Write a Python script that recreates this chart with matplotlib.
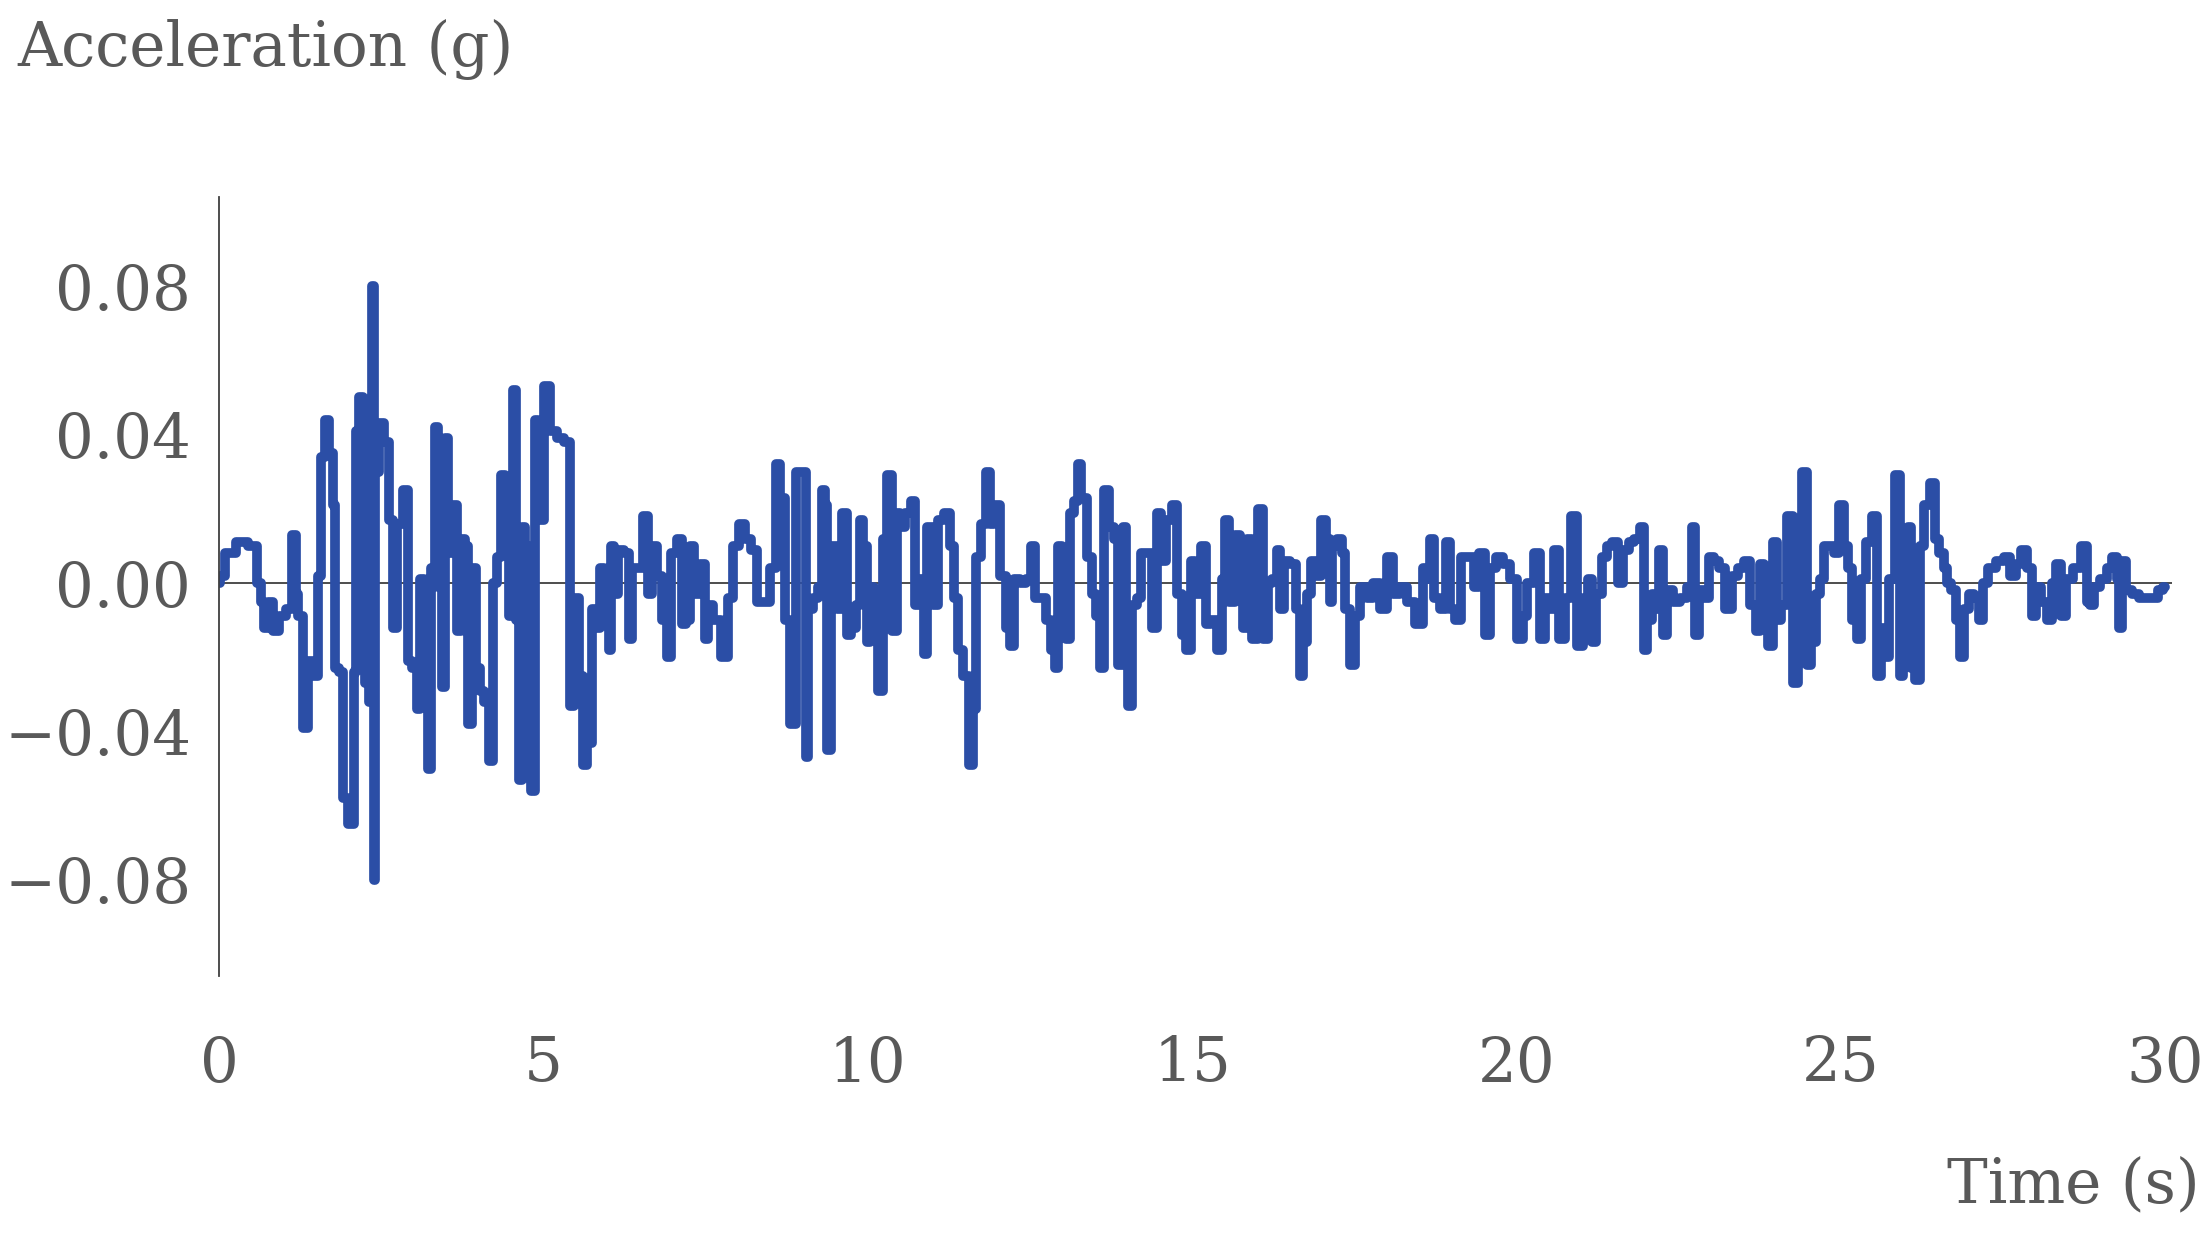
import matplotlib
matplotlib.use("Agg")
import matplotlib.pyplot as plt

# Ground-motion record (time in s, acceleration in g)
time_s = [
    0.00, 0.02, 0.17, 0.35, 0.55, 0.61, 0.68, 0.71, 0.79, 0.89, 0.97, 1.09, 1.16, 1.20, 1.25, 1.33,
    1.40, 1.51, 1.53, 1.61, 1.66, 1.74, 1.76, 1.81, 1.89, 1.94, 2.05, 2.10, 2.12, 2.20, 2.23, 2.28,
    2.33, 2.38, 2.39, 2.43, 2.51, 2.58, 2.66, 2.71, 2.79, 2.89, 2.94, 3.02, 3.07, 3.12, 3.20, 3.25,
    3.30, 3.35, 3.41, 3.46, 3.51, 3.56, 3.64, 3.69, 3.77, 3.82, 3.87, 3.92, 4.00, 4.05, 4.13, 4.20,
    4.25, 4.33, 4.38, 4.43, 4.51, 4.56, 4.61, 4.64, 4.69, 4.74, 4.79, 4.84, 4.90, 4.95, 5.06, 5.15,
    5.26, 5.39, 5.44, 5.51, 5.59, 5.64, 5.72, 5.77, 5.85, 5.90, 5.98, 6.03, 6.05, 6.13, 6.18, 6.31,
    6.34, 6.39, 6.49, 6.59, 6.64, 6.72, 6.80, 6.87, 6.93, 7.00, 7.11, 7.16, 7.23, 7.29, 7.36, 7.47,
    7.52, 7.57, 7.67, 7.80, 7.88, 7.98, 8.06, 8.16, 8.24, 8.34, 8.44, 8.55, 8.61, 8.70, 8.75, 8.85,
    8.93, 9.03, 9.06, 9.11, 9.19, 9.27, 9.32, 9.37, 9.39, 9.47, 9.57, 9.65, 9.70, 9.78, 9.86, 9.91,
    9.96, 10.01, 10.06, 10.14, 10.19, 10.27, 10.33, 10.42, 10.47, 10.52, 10.63, 10.70, 10.76, 10.86, 10.88, 10.96,
    11.06, 11.12, 11.24, 11.30, 11.37, 11.42, 11.53, 11.60, 11.65, 11.70, 11.78, 11.86, 11.91, 11.99, 12.09, 12.17,
    12.22, 12.30, 12.40, 12.48, 12.55, 12.61, 12.71, 12.79, 12.86, 12.91, 12.97, 13.02, 13.09, 13.14, 13.22, 13.26,
    13.33, 13.43, 13.48, 13.56, 13.61, 13.68, 13.76, 13.84, 13.89, 13.97, 13.99, 14.04, 14.12, 14.17, 14.25, 14.35,
    14.43, 14.48, 14.56, 14.64, 14.74, 14.81, 14.89, 14.94, 15.02, 15.07, 15.12, 15.17, 15.25, 15.35, 15.43, 15.48,
    15.53, 15.61, 15.71, 15.76, 15.82, 15.89, 15.97, 16.06, 16.13, 16.20, 16.28, 16.33, 16.38, 16.46, 16.56, 16.64,
    16.68, 16.74, 16.79, 16.87, 16.95, 17.02, 17.10, 17.15, 17.18, 17.28, 17.33, 17.38, 17.49, 17.54, 17.64, 17.74,
    17.85, 17.95, 18.05, 18.15, 18.26, 18.36, 18.52, 18.59, 18.64, 18.69, 18.77, 18.87, 18.95, 19.00, 19.10, 19.18,
    19.29, 19.39, 19.47, 19.57, 19.62, 19.75, 19.85, 19.95, 20.06, 20.13, 20.21, 20.32, 20.42, 20.47, 20.54, 20.62,
    20.70, 20.80, 20.90, 20.98, 21.06, 21.14, 21.19, 21.26, 21.37, 21.44, 21.52, 21.60, 21.68, 21.78, 21.86, 21.96,
    21.98, 22.06, 22.11, 22.16, 22.24, 22.29, 22.37, 22.47, 22.57, 22.68, 22.73, 22.78, 22.86, 22.94, 23.01, 23.09,
    23.17, 23.27, 23.37, 23.47, 23.55, 23.65, 23.73, 23.78, 23.86, 23.91, 23.99, 24.04, 24.12, 24.22, 24.30, 24.37,
    24.45, 24.50, 24.58, 24.66, 24.71, 24.78, 24.86, 24.94, 25.02, 25.07, 25.14, 25.22, 25.27, 25.35, 25.43, 25.53,
    25.58, 25.66, 25.71, 25.79, 25.89, 25.94, 25.99, 26.07, 26.09, 26.20, 26.25, 26.33, 26.43, 26.48, 26.56, 26.61,
    26.66, 26.74, 26.81, 26.87, 26.94, 27.02, 27.09, 27.17, 27.22, 27.33, 27.46, 27.56, 27.66, 27.74, 27.82, 27.92,
    27.97, 28.05, 28.12, 28.23, 28.30, 28.35, 28.43, 28.53, 28.64, 28.77, 28.82, 28.87, 28.95, 29.05, 29.15, 29.23,
    29.28, 29.31, 29.36, 29.44, 29.54, 29.67, 29.82, 29.95, 30.00,
]
accel_g = [
    0.000, 0.002, 0.008, 0.011, 0.010, 0.000, -0.005, -0.012, -0.005, -0.013, -0.009, -0.007, 0.013, -0.003, -0.009, -0.039,
    -0.021, -0.025, 0.002, 0.034, 0.044, 0.035, 0.021, -0.023, -0.024, -0.058, -0.065, -0.024, 0.041, 0.050, 0.002, -0.027,
    -0.032, 0.080, -0.080, 0.030, 0.043, 0.038, 0.017, -0.012, 0.016, 0.025, -0.021, -0.023, -0.034, 0.001, -0.004, -0.050,
    0.004, 0.042, -0.001, -0.028, 0.039, 0.008, 0.021, -0.013, 0.012, 0.010, -0.038, 0.004, -0.023, -0.029, -0.032, -0.048,
    0.000, 0.007, 0.029, 0.028, -0.009, 0.052, -0.010, -0.053, 0.015, 0.010, -0.023, -0.056, 0.044, 0.017, 0.053, 0.041,
    0.039, 0.038, -0.033, -0.004, -0.025, -0.049, -0.043, -0.007, -0.012, 0.004, -0.001, -0.018, 0.010, -0.003, 0.009, 0.008,
    -0.015, 0.004, 0.004, 0.018, -0.003, 0.010, 0.002, -0.010, -0.020, 0.008, 0.012, -0.011, -0.010, 0.010, -0.003, 0.005,
    -0.015, -0.006, -0.010, -0.020, -0.004, 0.010, 0.016, 0.012, 0.009, -0.005, -0.005, 0.004, 0.032, 0.023, -0.010, -0.038,
    0.030, 0.030, -0.047, -0.007, -0.004, -0.001, 0.025, 0.021, -0.045, 0.010, -0.007, 0.019, -0.014, -0.012, -0.006, 0.017,
    0.010, -0.016, -0.001, -0.003, -0.029, 0.012, 0.029, -0.013, 0.019, 0.015, 0.019, 0.022, -0.006, 0.001, -0.019, 0.015,
    -0.006, 0.017, 0.019, 0.010, -0.004, -0.018, -0.025, -0.049, -0.034, 0.007, 0.016, 0.030, 0.016, 0.021, 0.002, -0.012,
    -0.017, 0.001, 0.000, 0.001, 0.010, -0.004, -0.004, -0.010, -0.018, -0.023, 0.010, -0.003, -0.015, 0.019, 0.022, 0.032,
    0.023, 0.007, -0.003, -0.009, -0.023, 0.025, 0.015, 0.012, -0.022, 0.015, -0.007, -0.033, -0.006, -0.004, 0.008, 0.008,
    -0.012, 0.019, 0.006, 0.017, 0.021, -0.003, -0.014, -0.018, 0.006, -0.003, -0.003, 0.010, -0.011, -0.010, -0.018, 0.001,
    0.017, -0.005, 0.013, 0.005, -0.012, 0.012, -0.015, 0.020, -0.015, 0.000, 0.001, 0.009, -0.007, 0.006, 0.005, -0.007,
    -0.025, -0.016, -0.003, 0.006, 0.002, 0.017, 0.012, -0.005, 0.010, 0.012, 0.008, -0.007, -0.022, -0.009, -0.001, -0.004,
    0.000, -0.007, 0.007, -0.003, -0.001, -0.005, -0.011, 0.004, 0.001, 0.012, -0.004, -0.007, 0.011, -0.007, -0.010, 0.007,
    0.007, -0.001, 0.008, -0.014, 0.004, 0.007, 0.005, 0.001, -0.015, -0.009, 0.000, 0.008, -0.015, -0.004, -0.007, 0.009,
    -0.015, -0.004, 0.018, -0.017, -0.004, 0.001, -0.016, -0.003, 0.007, 0.010, 0.011, 0.000, 0.009, 0.011, 0.012, 0.015,
    -0.018, -0.010, -0.003, -0.007, 0.009, -0.014, -0.002, -0.005, -0.004, -0.001, 0.015, -0.014, -0.002, -0.004, 0.007, 0.006,
    0.004, -0.007, 0.002, 0.004, 0.006, -0.006, -0.013, 0.005, -0.003, -0.017, 0.011, -0.010, -0.006, 0.018, -0.027, 0.000,
    0.030, -0.022, -0.016, -0.003, 0.001, 0.010, 0.010, 0.008, 0.021, 0.010, 0.004, -0.010, -0.015, 0.001, 0.011, 0.018,
    -0.025, -0.012, -0.020, 0.001, 0.029, -0.025, -0.009, 0.015, -0.023, -0.026, 0.010, 0.021, 0.027, 0.012, 0.008, 0.004,
    0.000, -0.002, -0.010, -0.020, -0.007, -0.003, -0.004, -0.010, 0.000, 0.004, 0.006, 0.007, 0.002, 0.005, 0.009, 0.004,
    -0.009, -0.001, -0.005, -0.010, 0.000, 0.005, -0.009, 0.001, 0.004, 0.010, -0.005, -0.006, -0.001, 0.001, 0.004, 0.007,
    0.001, -0.012, 0.006, -0.002, -0.003, -0.004, -0.004, -0.002, -0.001,
]

y_ticks = [-0.08, -0.04, 0.00, 0.04, 0.08]
x_ticks = [0, 5, 10, 15, 20, 25, 30]
y_label = "Acceleration (g)"
x_label = "Time (s)"

TEXT = "#595959"
AXIS = "#3f3f3f"
LINE = "#2b4ea6"
FONT = "DejaVu Serif"

fig = plt.figure(figsize=(22.12, 12.38), dpi=100)
ax = fig.add_axes([0.099, 0.2116, 0.8827, 0.6289])

ax.axhline(0, color=AXIS, lw=1.3, zorder=1)
ax.plot(time_s, accel_g, color=LINE, lw=7.0, drawstyle="steps-mid",
        solid_joinstyle="round", solid_capstyle="round", zorder=2)

ax.set_xlim(0, 30.1)
ax.set_ylim(-0.1059, 0.1039)

for s in ("top", "right", "bottom"):
    ax.spines[s].set_visible(False)
ax.spines["left"].set_color(AXIS)
ax.spines["left"].set_linewidth(1.3)

ax.set_yticks(y_ticks)
ax.set_yticklabels([("%.2f" % v).replace("-", "\u2212") for v in y_ticks])
ax.set_xticks(x_ticks)
ax.set_xticklabels([str(v) for v in x_ticks])
ax.tick_params(axis="both", length=0, labelsize=44, labelcolor=TEXT)
ax.tick_params(axis="x", pad=42)
ax.tick_params(axis="y", pad=20)
for lab in ax.get_xticklabels() + ax.get_yticklabels():
    lab.set_family(FONT)

fig.text(0.0077, 0.9467, y_label, fontsize=44, color=TEXT, family=FONT,
         ha="left", va="baseline")
fig.text(0.9946, 0.029, x_label, fontsize=44, color=TEXT, family=FONT,
         ha="right", va="baseline")

fig.savefig("out.png", dpi=100)
